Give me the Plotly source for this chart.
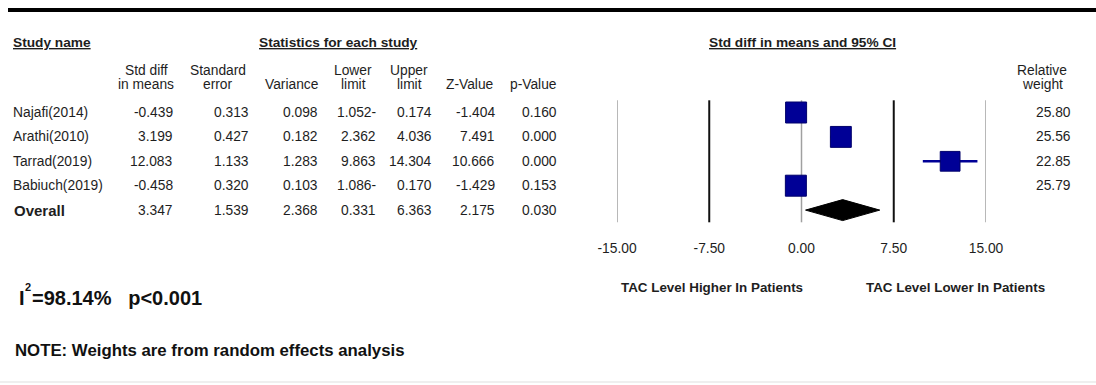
import plotly.graph_objects as go

# ---------------- data ----------------
studies = ["Najafi(2014)", "Arathi(2010)", "Tarrad(2019)", "Babiuch(2019)"]
std_diff = [-0.439, 3.199, 12.083, -0.458]
std_err = [0.313, 0.427, 1.133, 0.320]
variance = [0.098, 0.182, 1.283, 0.103]
lower_limit = [-1.052, 2.362, 9.863, -1.086]
upper_limit = [0.174, 4.036, 14.304, 0.170]
z_value = [-1.404, 7.491, 10.666, -1.429]
p_value = [0.160, 0.000, 0.000, 0.153]
rel_weight = [25.80, 25.56, 22.85, 25.79]

overall_label = "Overall"
overall_diff = 3.347
overall_se = 1.539
overall_var = 2.368
overall_lower = 0.331
overall_upper = 6.363
overall_z = 2.175
overall_p = 0.030

axis_tickvals = [-15, -7.5, 0, 7.5, 15]
axis_ticktext = ["-15.00", "-7.50", "0.00", "7.50", "15.00"]
left_favour = "TAC Level Higher In Patients"
right_favour = "TAC Level Lower In Patients"
het_symbol = "I"
het_exponent = "2"
het_rest = "=98.14%&nbsp;&nbsp;&nbsp;p&lt;0.001"
note = "NOTE: Weights are from random effects analysis"

# ---------------- layout constants ----------------
W, H = 1096, 385
FONT = "Liberation Sans, Arial, sans-serif"
TXT = "#1e1e1e"
NAVY = "#000096"
ROW0_PX, ROW_STEP = 112.5, 24.4
PLOT_BOTTOM_PX = 238
X_LEFT_PX, X_RIGHT_PX = 617, 986  # pixel positions of -15 and 15

def py(px):
    return 1 - px / H

def pxx(px):
    return px / W

def fmt_lower(v):
    return f"{abs(v):.3f}-" if v < 0 else f"{v:.3f}"

y_top = (0 - ROW0_PX) / ROW_STEP
y_bot = (PLOT_BOTTOM_PX - ROW0_PX) / ROW_STEP

fig = go.Figure()

# reference lines
for t in axis_tickvals:
    col = "#111111" if abs(t) == 7.5 else "#a0a0a0"
    wid = 2 if abs(t) == 7.5 else 1.5
    fig.add_trace(go.Scatter(x=[t, t], y=[-0.5, 4.5], mode="lines",
                             line=dict(color=col, width=wid),
                             hoverinfo="skip", showlegend=False))

# confidence intervals
for i in range(len(studies)):
    fig.add_trace(go.Scatter(x=[lower_limit[i], upper_limit[i]], y=[i, i], mode="lines",
                             line=dict(color=NAVY, width=2.5),
                             hoverinfo="skip", showlegend=False))

# boxes
wmax = max(rel_weight)
fig.add_trace(go.Scatter(
    x=std_diff, y=list(range(len(studies))), mode="markers",
    marker=dict(symbol="square", color=NAVY, opacity=1,
                size=[21 * (w / wmax) ** 0.5 for w in rel_weight],
                line=dict(color="#00006a", width=1)),
    hoverinfo="skip", showlegend=False))

# overall diamond
k = len(studies)
hh = 0.43
fig.add_trace(go.Scatter(
    x=[overall_lower, overall_diff, overall_upper, overall_diff, overall_lower],
    y=[k, k - hh, k, k + hh, k], mode="lines", fill="toself",
    fillcolor="#000000", line=dict(color="#000000", width=1),
    hoverinfo="skip", showlegend=False))

ann = []

def add(text, xpx, ypx=None, yrow=None, xanchor="center", size=13.8, bold=False, color=TXT):
    d = dict(text=(f"<b>{text}</b>" if bold else text), x=pxx(xpx), xref="paper",
             xanchor=xanchor, showarrow=False, borderpad=0,
             font=dict(family=FONT, size=size, color=color), align="center")
    if yrow is not None:
        d.update(y=yrow, yref="y", yanchor="middle")
    else:
        d.update(y=py(ypx), yref="paper", yanchor="middle")
    ann.append(d)

# section headers
add("<u>Study name</u>", 12, ypx=42, xanchor="left", size=13.7, bold=True)
add("<u>Statistics for each study</u>", 338, ypx=42, size=13.7, bold=True)
add("<u>Std diff in means and 95% CI</u>", 802, ypx=42, size=13.7, bold=True)

# column headers
col_right = [174, 250, 319, 377, 433, 496, 558]
hdr = [("Std diff", "in means", 146), ("Standard", "error", 218), (None, "Variance", 292),
       ("Lower", "limit", 353), ("Upper", "limit", 409), (None, "Z-Value", 470),
       (None, "p-Value", 533)]
for l1, l2, cx in hdr:
    if l1:
        add(l1, cx, ypx=70)
    add(l2, cx, ypx=85)
add("Relative", 1042, ypx=71)
add("weight", 1042, ypx=85)

# study rows
for i, s in enumerate(studies):
    add(s, 12, yrow=i, xanchor="left")
    vals = [f"{std_diff[i]:.3f}", f"{std_err[i]:.3f}", f"{variance[i]:.3f}",
            fmt_lower(lower_limit[i]), f"{upper_limit[i]:.3f}", f"{z_value[i]:.3f}",
            f"{p_value[i]:.3f}"]
    for v, xr in zip(vals, col_right):
        add(v, xr, yrow=i, xanchor="right")
    add(f"{rel_weight[i]:.2f}", 1072, yrow=i, xanchor="right")

# overall row
add(overall_label, 13, yrow=k, xanchor="left", size=15, bold=True)
ovals = [f"{overall_diff:.3f}", f"{overall_se:.3f}", f"{overall_var:.3f}",
         fmt_lower(overall_lower), f"{overall_upper:.3f}", f"{overall_z:.3f}",
         f"{overall_p:.3f}"]
for v, xr in zip(ovals, col_right):
    add(v, xr, yrow=k, xanchor="right")

# favour labels
add(left_favour, 712, ypx=287, size=13.4, bold=True)
add(right_favour, 955, ypx=287, size=13.4, bold=True)

# heterogeneity (I, superscript 2, rest) and note
add(het_symbol, 18, ypx=298, xanchor="left", size=20, bold=True, color="#111111")
add(het_exponent, 24, ypx=287, xanchor="left", size=11, bold=True, color="#111111")
add(het_rest, 31, ypx=298, xanchor="left", size=20, bold=True, color="#111111")
add(note, 14, ypx=350, xanchor="left", size=16.8, bold=True, color="#111111")

shapes = [
    dict(type="line", xref="paper", yref="paper", x0=pxx(8), x1=1, y0=py(10), y1=py(10),
         line=dict(color="#000000", width=4)),
    dict(type="line", xref="paper", yref="paper", x0=0, x1=1, y0=py(382), y1=py(382),
         line=dict(color="#efefef", width=2)),
]

fig.update_layout(
    width=W, height=H, autosize=False,
    margin=dict(l=0, r=0, t=0, b=0, pad=0, autoexpand=False),
    paper_bgcolor="white", plot_bgcolor="white",
    annotations=ann, shapes=shapes, showlegend=False,
    xaxis=dict(domain=[pxx(X_LEFT_PX), pxx(X_RIGHT_PX)], range=[-15, 15],
               tickvals=axis_tickvals, ticktext=axis_ticktext, ticks="",
               showgrid=False, zeroline=False, showline=False, automargin=False,
               tickfont=dict(family=FONT, size=13.8, color=TXT), fixedrange=True),
    yaxis=dict(domain=[py(PLOT_BOTTOM_PX), 1], range=[y_bot, y_top], visible=False,
               showgrid=False, zeroline=False, fixedrange=True, automargin=False),
)

fig.write_html("out.html", config={"displayModeBar": False})
